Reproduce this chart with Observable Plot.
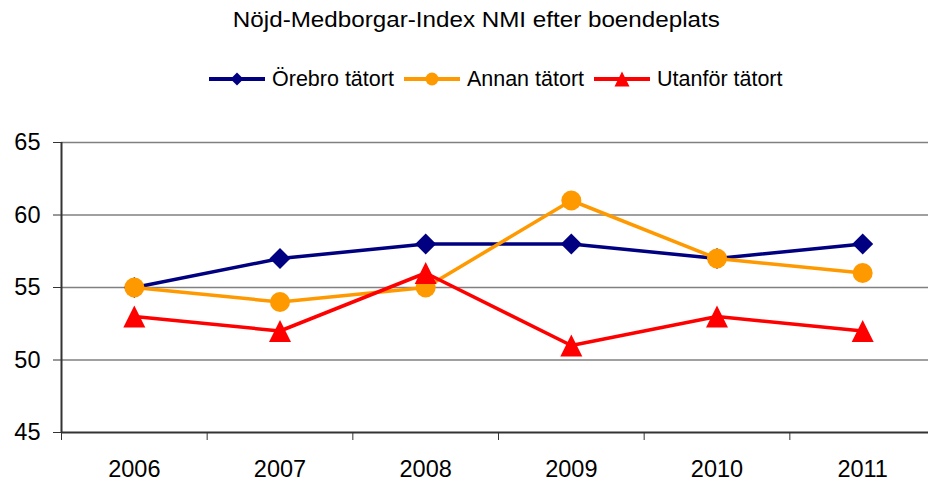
<!DOCTYPE html>
<html>
<head>
<meta charset="utf-8">
<script src="https://cdn.jsdelivr.net/npm/d3@7"></script>
<script src="https://cdn.jsdelivr.net/npm/@observablehq/plot@0.6"></script>
<style>
  html, body { margin: 0; padding: 0; background: #fff; }
  body { width: 928px; height: 482px; overflow: hidden; font-family: "Liberation Sans", Arial, sans-serif; }
  #wrap { position: relative; width: 928px; height: 482px; }
  #title { position: absolute; left: 0; top: 7px; width: 952px; text-align: center; font-size: 22px; line-height: 26px; color: #000; }
  #title span { display: inline-block; transform: scaleX(1.1); transform-origin: center; }
  #legend { position: absolute; left: 209px; top: 67px; display: flex; align-items: center; font-size: 21.5px; line-height: 24px; color: #000; }
  #legend .item { display: flex; align-items: center; margin-right: 10px; }
  #legend svg { margin-right: 7px; }
  #chart { position: absolute; left: 0; top: 100px; }
</style>
</head>
<body>
<div id="wrap">
  <div id="title"><span></span></div>
  <div id="legend"></div>
  <div id="chart"></div>
</div>
<script>
const title = "Nöjd-Medborgar-Index NMI efter boendeplats";
const years = [2006, 2007, 2008, 2009, 2010, 2011];
const seriesNames = ["Örebro tätort", "Annan tätort", "Utanför tätort"];
const orebro = [55, 57, 58, 58, 57, 58];
const annan = [55, 54, 55, 61, 57, 56];
const utanfor = [53, 52, 56, 51, 53, 52];
const yTicks = [45, 50, 55, 60, 65];
const colors = ["#000080", "#FF9900", "#FF0000"];

// custom symbols (bounding box centred on the point, like the spreadsheet markers)
const diamond = { draw(ctx, size) { const r = Math.sqrt(size / Math.PI); ctx.moveTo(0, -r); ctx.lineTo(r, 0); ctx.lineTo(0, r); ctx.lineTo(-r, 0); ctx.closePath(); } };
const circle = { draw(ctx, size) { const r = Math.sqrt(size / Math.PI); ctx.moveTo(r, 0); ctx.arc(0, 0, r, 0, 2 * Math.PI); } };
const triangle = { draw(ctx, size) { const r = Math.sqrt(size / Math.PI); ctx.moveTo(0, -r); ctx.lineTo(r, r); ctx.lineTo(-r, r); ctx.closePath(); } };
const symbols = [diamond, circle, triangle];
const radii = [10.5, 10, 11];

const seriesValues = [orebro, annan, utanfor];
const data = seriesNames.map((name, i) => years.map((year, j) => ({ series: name, year, value: seriesValues[i][j] })));

document.querySelector("#title span").textContent = title;

// legend
const legend = document.getElementById("legend");
const legendR = [6.5, 6.5, 7.5];
seriesNames.forEach((name, i) => {
  const item = document.createElement("div");
  item.className = "item";
  const p = d3.path();
  symbols[i].draw(p, Math.PI * legendR[i] * legendR[i]);
  item.innerHTML = `<svg width="56" height="20" viewBox="-28 -10 56 20"><line x1="-28" x2="28" y1="0" y2="0" stroke="${colors[i]}" stroke-width="4"/><path d="${p.toString()}" fill="${colors[i]}"/></svg><span>${name}</span>`;
  legend.appendChild(item);
});

const bounds = d3.range(years[0] - 0.5, years[years.length - 1] + 1, 1);

const marks = [
  Plot.ruleY(yTicks.slice(1), { y: d => d, stroke: "#808080", strokeWidth: 1.5 }),
  Plot.ruleY([yTicks[0]], { y: d => d, stroke: "#333", strokeWidth: 2 }),
  Plot.axisY({ ticks: yTicks, tickSize: 8, tickPadding: 13, fontSize: 23.5, stroke: "#333", color: "#000", label: null }),
  Plot.axisX({ ticks: bounds, tickSize: 8, tickFormat: () => "", stroke: "#333", label: null }),
  Plot.axisX({ ticks: years, tickSize: 0, tickPadding: 28, fontSize: 23.5, tickFormat: d3.format("d"), color: "#000", label: null }),
  Plot.ruleX([years[0] - 0.5], { x: d => d, y1: yTicks[0], y2: yTicks[yTicks.length - 1], stroke: "#333", strokeWidth: 2 })
];
data.forEach((rows, i) => {
  marks.push(Plot.line(rows, { x: "year", y: "value", stroke: colors[i], strokeWidth: 3.5 }));
  marks.push(Plot.dot(rows, { x: "year", y: "value", fill: colors[i], stroke: "none", r: radii[i], symbol: symbols[i] }));
});

const chart = Plot.plot({
  width: 928,
  height: 382,
  marginTop: 42,
  marginBottom: 50,
  marginLeft: 61,
  marginRight: 0,
  style: { fontFamily: "Liberation Sans, Arial, sans-serif", overflow: "visible", background: "#fff" },
  x: { type: "linear", domain: [years[0] - 0.5, years[years.length - 1] + 0.5], range: [61, 935], axis: null },
  y: { domain: [yTicks[0], yTicks[yTicks.length - 1]], axis: null },
  marks
});
document.getElementById("chart").appendChild(chart);
</script>
</body>
</html>
